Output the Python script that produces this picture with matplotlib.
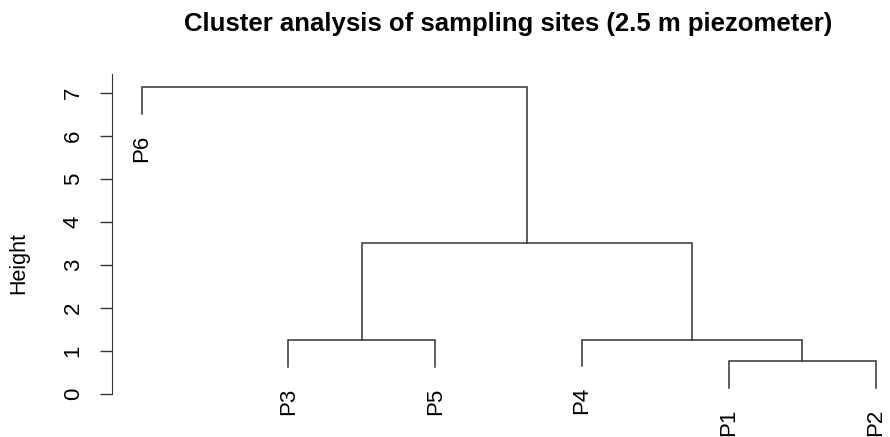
import matplotlib
matplotlib.use("Agg")
import matplotlib.pyplot as plt

# leaf order along x and merge steps (left child, right child, height)
# integer children refer to earlier merges by index
leaf_order = ['P6', 'P3', 'P5', 'P4', 'P1', 'P2']
merges = [('P1', 'P2', 0.77),
          ('P3', 'P5', 1.26),
          ('P4', 0, 1.27),
          (1, 2, 3.52),
          ('P6', 3, 7.12)]
hang = 0.62
y_ticks = [0, 1, 2, 3, 4, 5, 6, 7]

title = 'Cluster analysis of sampling sites (2.5 m piezometer)'

plt.rcParams['font.family'] = ['Liberation Sans', 'DejaVu Sans']
line_col = '#333333'

W, H = 890, 437
fig = plt.figure(figsize=(W / 100, H / 100), dpi=100)

x0_px, dx_px = 141.7, 146.8      # leaf 1 position, leaf spacing
y0_px, dy_px = 394.3, 43.09      # height 0 position, px per unit
xlim = (0.8, 6.05)
ylim = (-0.15, 7.5)
left = x0_px + dx_px * (xlim[0] - 1)
right = x0_px + dx_px * (xlim[1] - 1)
top = y0_px - dy_px * ylim[1]
bottom = y0_px - dy_px * ylim[0]
ax = fig.add_axes([left / W, 1 - bottom / H, (right - left) / W, (bottom - top) / H])
ax.set_xlim(*xlim)
ax.set_ylim(*ylim)

nodes = []


def child_pos(c, h):
    if isinstance(c, str):
        x = leaf_order.index(c) + 1
        return x, h - hang
    return nodes[c]


for a, b, h in merges:
    xa, ya = child_pos(a, h)
    xb, yb = child_pos(b, h)
    ax.plot([xa, xa, xb, xb], [ya, h, h, yb], color=line_col, lw=1.1,
            solid_joinstyle='miter', clip_on=False)
    nodes.append(((xa + xb) / 2, h))
    for c, x, y in ((a, xa, ya), (b, xb, yb)):
        if isinstance(c, str):
            ax.annotate(c, (x, y), xytext=(0, -15), textcoords='offset points',
                        rotation=90, ha='center', va='top', fontsize=16,
                        annotation_clip=False)

for s in ['top', 'right', 'bottom']:
    ax.spines[s].set_visible(False)
ax.spines['left'].set_bounds(0, 7.43)
ax.spines['left'].set_color(line_col)
ax.spines['left'].set_position(('data', xlim[0]))
ax.set_xticks([])
ax.set_yticks(y_ticks)
ax.set_yticklabels([str(t) for t in y_ticks], rotation=90, va='center', fontsize=16)
ax.tick_params(axis='y', length=8.6, width=1, color=line_col, pad=12)
ax.set_ylabel('Height', fontsize=15.5)
ax.yaxis.set_label_coords((29 - left) / (right - left), (bottom - 262.5) / (bottom - top))

fig.text(508 / W, 1 - 31 / H, title, ha='center', va='baseline',
         fontsize=18.5, fontweight='bold')

fig.savefig('out.png', dpi=100)
